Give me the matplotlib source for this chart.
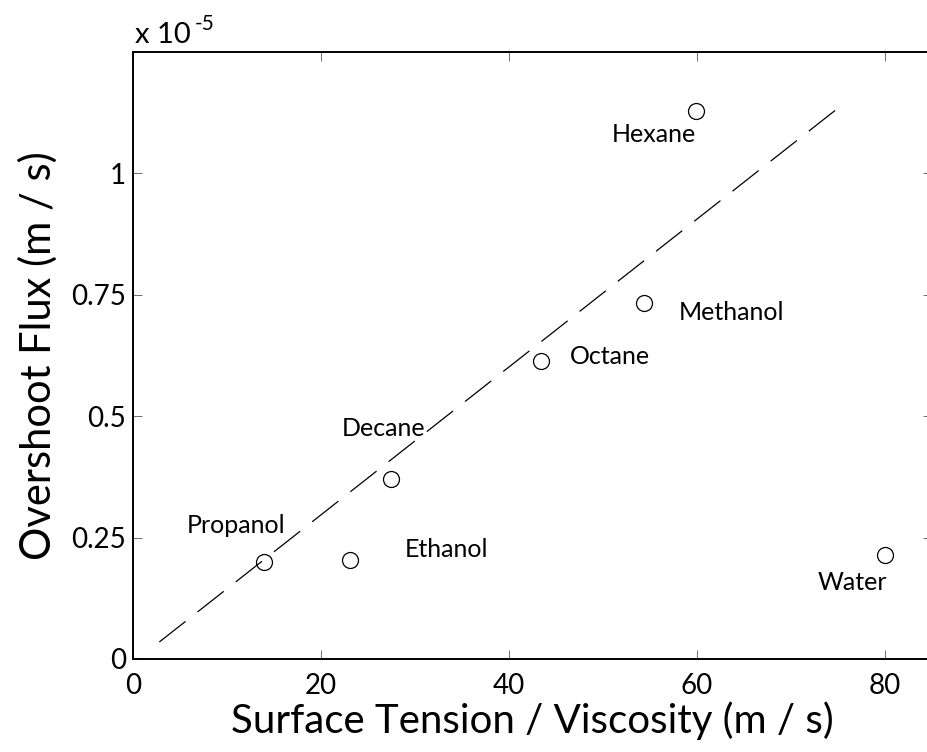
import numpy as np
import matplotlib
matplotlib.use('Agg')
import matplotlib.pyplot as plt
from matplotlib import rcParams

rcParams['font.family'] = ['Lato', 'DejaVu Sans']
rcParams['lines.scale_dashes'] = False

# data (y in units of 1e-5 m/s)
names = ['Propanol', 'Ethanol', 'Decane', 'Octane', 'Methanol', 'Hexane', 'Water']
ratio = np.array([13.9, 23.1, 27.4, 43.4, 54.4, 59.9, 80.0])
flux = np.array([0.199, 0.203, 0.370, 0.614, 0.733, 1.129, 0.2135])
fit_x = np.array([2.8, 75.5])
fit_y = np.array([0.035, 1.142])

xticks = [0, 20, 40, 60, 80]
yticks = [0, 0.25, 0.5, 0.75, 1]
yticklabels = ['0', '0.25', '0.5', '0.75', '1']

# label offsets in pixels from each point
offsets = [(-77, 37), (55, 11), (-49, 51), (29, 4), (34, -9), (-84, -24), (-67, -27)]

fig = plt.figure(figsize=(9.27, 7.52), dpi=100)
ax = fig.add_axes([0.1435, 0.1237, 0.862, 0.8072])

ax.plot(fit_x, fit_y, color='black', linewidth=0.9, dashes=(24, 11))
ax.plot(ratio, flux, 'o', ms=11.5, mfc='none', mec='black', mew=0.9)

for name, x, y, off in zip(names, ratio, flux, offsets):
    ax.annotate(name, (x, y), xytext=off, textcoords='offset pixels',
                ha='left', va='center', fontsize=18)

ax.set_xlim(0, 85)
ax.set_ylim(0, 1.25)
ax.set_xticks(xticks)
ax.set_yticks(yticks)
ax.set_yticklabels(yticklabels)
ax.tick_params(which='both', direction='in', top=True, right=True,
               length=6.5, width=0.6, color='#555555', labelsize=20)
ax.tick_params(axis='x', pad=10)
ax.tick_params(axis='y', pad=5)
for s in ax.spines.values():
    s.set_linewidth(1.4)

ax.set_xlabel('Surface Tension / Viscosity (m / s)', fontsize=29, labelpad=2)
ax.set_ylabel('Overshoot Flux (m / s)', fontsize=30, labelpad=10)

ax.text(0.002, 1.015, 'x 10', transform=ax.transAxes, fontsize=21, ha='left', va='baseline')
ax.text(0.0776, 1.036, '-5', transform=ax.transAxes, fontsize=15, ha='left', va='baseline')

fig.savefig('out.png', dpi=100)
